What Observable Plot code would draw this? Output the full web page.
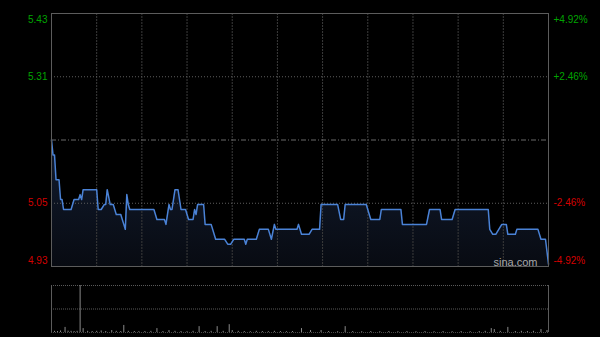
<!DOCTYPE html>
<html><head><meta charset="utf-8">
<script src="https://cdn.jsdelivr.net/npm/d3@7"></script>
<script src="https://cdn.jsdelivr.net/npm/@observablehq/plot@0.6"></script>
<style>
html,body{margin:0;padding:0;background:#000;}
#wrap{position:relative;width:600px;height:337px;background:#000;overflow:hidden;font-family:"Liberation Sans",Arial,sans-serif;}
#wrap svg{position:absolute;left:0;}
</style></head><body><div id="wrap"></div>
<script>
// ---- data ----
const prevClose = 5.18;
const priceMinutes = [0,1,2,3,5,6,7,8,13,15,18,19,20,21,30,31,33,35,36,37,39,41,43,46,47,48,49,50,51,52,68,69,70,75,76,78,79,80,82,84,86,89,91,94,95,96,97,101,102,106,109,115,117,119,121,128,129,130,136,138,144,146,148,149,163,164,166,171,173,178,179,190,192,194,195,209,211,212,218,219,232,233,249,251,258,259,266,268,290,291,293,295,297,299,302,303,308,309,323,325,328,330];
const prices = [5.18,5.15,5.15,5.10,5.10,5.06,5.06,5.04,5.04,5.06,5.06,5.07,5.06,5.08,5.08,5.04,5.04,5.05,5.05,5.08,5.05,5.05,5.03,5.03,5.02,5.01,5.00,5.07,5.05,5.04,5.04,5.03,5.02,5.02,5.01,5.05,5.04,5.04,5.08,5.08,5.04,5.04,5.02,5.02,5.04,5.03,5.05,5.05,5.01,5.01,4.98,4.98,4.97,4.97,4.98,4.98,4.97,4.98,4.98,5.00,5.00,4.98,5.01,5.00,5.00,5.01,4.99,4.99,5.00,5.00,5.05,5.05,5.02,5.02,5.05,5.05,5.03,5.02,5.02,5.04,5.04,5.01,5.01,5.04,5.04,5.02,5.02,5.04,5.04,5.00,4.99,4.99,5.00,5.01,5.01,4.99,4.99,5.00,5.00,4.98,4.98,4.93];
const volMinutes = [2,4,6,9,11,13,15,17,19,21,24,27,30,33,36,40,43,46,48,51,55,58,62,66,70,74,78,82,86,90,94,98,102,106,110,114,118,120,124,128,132,136,140,144,148,152,156,160,166,172,179,184,190,195,200,206,212,218,224,230,236,242,248,254,260,266,272,278,284,288,292,294,298,303,308,312,316,320,325,329];
const volumes = [30,25,40,130,35,30,25,30,1200,100,30,25,30,40,25,50,30,25,180,30,25,20,25,30,100,25,50,30,25,20,30,150,25,30,150,30,200,50,30,25,20,30,25,20,30,25,20,25,100,50,50,25,20,150,25,20,25,20,25,20,25,20,25,20,25,20,25,20,25,30,100,75,30,130,25,30,25,30,75,50];
const priceLabels = ["5.43","5.31","5.05","4.93"];
const pctLabels = ["+4.92%","+2.46%","-2.46%","-4.92%"];
const pctValues = [4.92, 2.46, -2.46, -4.92];
const timeGrid = [30,60,90,120,150,180,210,240,270,300];
const sessionMinutes = 330;
const watermark = "sina.com";

// ---- build ----
const font = "'Liberation Sans', Arial, sans-serif";
const pdata = priceMinutes.map((m,i)=>({m, p: prices[i]}));
const yDom = [prevClose*(1-0.0492), prevClose*(1+0.0492)];
const rows = pctValues.map((v,i)=>({y: prevClose*(1+v/100), price: priceLabels[i], pct: pctLabels[i], col: v>0 ? "#00a400" : "#d40000", idx: i}));

function labelMarks(side){
  const opts = side==="left"
    ? {text:"price", frameAnchor:"left", textAnchor:"end", dx:-4}
    : {text:"pct", frameAnchor:"right", textAnchor:"start", dx:5};
  return [
    Plot.text(rows.filter(d=>d.idx===0), {...opts, y:"y", fill:"col", dy:6}),
    Plot.text(rows.filter(d=>d.idx===1||d.idx===2), {...opts, y:"y", fill:"col", dy:0}),
    Plot.text(rows.filter(d=>d.idx===3), {...opts, y:"y", fill:"col", dy:-6})
  ];
}

const price = Plot.plot({
  width:600, height:270,
  marginLeft:51, marginRight:52, marginTop:13, marginBottom:4,
  x:{domain:[0,sessionMinutes], axis:null},
  y:{domain:yDom, axis:null},
  color:{type:"identity"},
  style:{background:"transparent", fontFamily:font, fontSize:"10px", overflow:"visible"},
  marks:[
    Plot.areaY(pdata,{x:"m", y1:yDom[0], y2:"p", fill:"url(#pgrad)"}),
    Plot.ruleX(timeGrid,{stroke:"#3c3c3c", strokeDasharray:"2,1"}),
    Plot.ruleY(rows.filter(d=>d.idx===1||d.idx===2),{y:"y", stroke:"#5e5e5e", strokeDasharray:"1,2"}),
    Plot.ruleY([prevClose],{stroke:"#6a6a6a", strokeDasharray:"5,2,1,2"}),
    Plot.lineY(pdata,{x:"m", y:"p", stroke:"#4a82d6", strokeWidth:1.5}),
    Plot.frame({stroke:"#5c5c5c"}),
    ...labelMarks("left"),
    ...labelMarks("right"),
    Plot.text([watermark],{frameAnchor:"bottom-right", textAnchor:"end", dx:-11, dy:-1, fill:"#a8a8a8", fontSize:11})
  ]
});
const defs = d3.select(price).insert("defs",":first-child");
const g = defs.append("linearGradient").attr("id","pgrad").attr("x1",0).attr("y1",0).attr("x2",0).attr("y2",1);
g.append("stop").attr("offset","0%").attr("stop-color","#121c30");
g.append("stop").attr("offset","100%").attr("stop-color","#080b12");
price.style.top = "0px";

const vdata = volMinutes.map((m,i)=>({m, v: volumes[i]}));
const vmax = d3.max(volumes);
const vol = Plot.plot({
  width:600, height:57,
  marginLeft:51, marginRight:52, marginTop:5, marginBottom:5,
  x:{domain:[0,sessionMinutes], axis:null},
  y:{domain:[0,vmax], axis:null},
  style:{background:"transparent", overflow:"visible"},
  marks:[
    Plot.ruleY([vmax/2, vmax],{stroke:"#5a5a5a", strokeDasharray:"1,1"}),
    Plot.ruleY([0],{stroke:"#4a4a4a", strokeDasharray:"1,1"}),
    Plot.ruleX([0, sessionMinutes],{stroke:"#5c5c5c"}),
    Plot.ruleX(vdata,{x:"m", y1:0, y2:"v", stroke:"#8a8a8a"})
  ]
});
vol.style.top = "280px";

const wrap = document.getElementById("wrap");
wrap.appendChild(price);
wrap.appendChild(vol);
</script>
</body></html>
